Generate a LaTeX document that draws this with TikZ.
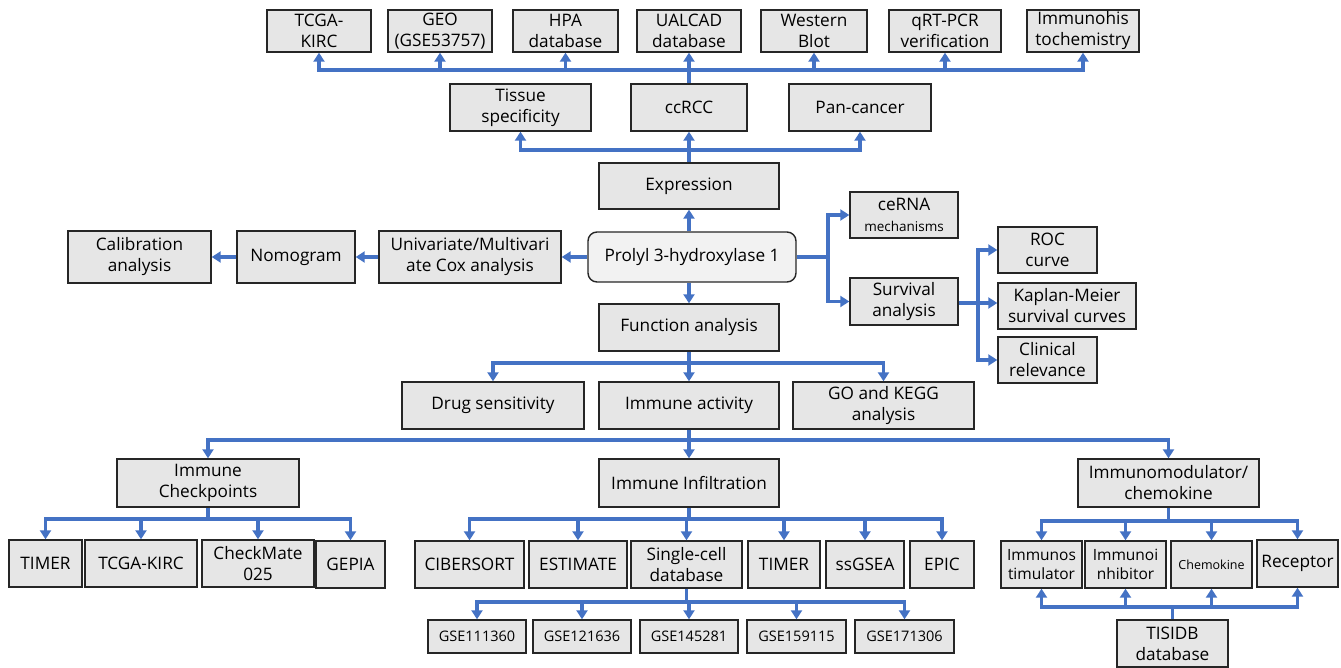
\documentclass[tikz,border=0pt]{standalone}
\usepackage{fontspec}
\setmainfont{Open Sans}
\usetikzlibrary{arrows.meta}
\definecolor{lnblue}{HTML}{4472C4}
\definecolor{boxgray}{HTML}{E6E6E6}
\definecolor{boxlight}{HTML}{F2F2F2}
\tikzset{
  box/.style={draw=black!85, line width=1.4pt, fill=boxgray, align=center, inner sep=0pt,
    font=\fontsize{17.2}{21}\selectfont},
  small/.style={font=\fontsize{14.5}{18}\selectfont},
  ln/.style={draw=lnblue, line width=3.2pt},
  arr/.style={ln, -{Triangle[width=11pt,length=9pt]}},
}
\newcommand\bx[7][]{\node[box,minimum width={#5-#3},minimum height={#6-#4},#1] (#2) at ({(#3+#5)/2},{(#4+#6)/2}) {#7};}
\begin{document}
\begin{tikzpicture}[x=1pt,y=-1pt]
\useasboundingbox (0,0) rectangle (1341,668);
% top row
\bx{tcga}{267}{10}{371}{52}{TCGA-\\KIRC}
\bx{geo}{388}{10}{492}{52}{GEO\\(GSE53757)}
\bx{hpa}{513}{10}{618}{52}{HPA\\database}
\bx{ualcad}{637}{10}{741}{52}{UALCAD\\database}
\bx{wb}{761}{10}{867}{52}{Western\\Blot}
\bx{qrt}{889}{10}{1001}{52}{qRT-PCR\\verification}
\bx{ihc}{1027}{10}{1139}{52}{Immunohis\\tochemistry}
% second row
\bx{tissue}{450}{84}{591}{131}{Tissue\\specificity}
\bx{ccrcc}{631}{84}{747}{131}{ccRCC}
\bx{pan}{789}{84}{931}{131}{Pan-cancer}
% center column
\bx{expr}{599}{163}{779}{209}{Expression}
\bx[rounded corners=9pt,fill=boxlight]{prolyl}{588}{232}{796}{282}{Prolyl 3-hydroxylase 1}
\bx{func}{599}{304}{779}{351}{Function analysis}
% left
\bx{cox}{379}{231}{561}{283}{Univariate/Multivari\\ate Cox analysis}
\bx{nomo}{237}{231}{355}{283}{Nomogram}
\bx{calib}{68}{231}{211}{283}{Calibration\\analysis}
% right
\bx{cerna}{850}{192}{958}{238}{ceRNA\\{\fontsize{13.5}{16}\selectfont mechanisms}}
\bx{surv}{850}{278}{958}{325}{Survival\\analysis}
\bx{roc}{998}{227}{1097}{273}{ROC\\curve}
\bx{km}{998}{283}{1136}{329}{Kaplan-Meier\\survival curves}
\bx{clin}{998}{337}{1097}{383}{Clinical\\relevance}
% function row
\bx{drug}{402}{382}{584}{429}{Drug sensitivity}
\bx{act}{599}{382}{779}{429}{Immune activity}
\bx{go}{793}{382}{974}{429}{GO and KEGG\\analysis}
% third level
\bx{chk}{117}{459}{299}{507}{Immune\\Checkpoints}
\bx{infil}{599}{459}{779}{507}{Immune Infiltration}
\bx{imod}{1078}{459}{1259}{507}{Immunomodulator/\\chemokine}
% checkpoints children
\bx{timerA}{9}{540}{82}{587}{TIMER}
\bx{tcgaB}{85}{540}{197}{587}{TCGA-KIRC}
\bx{cm}{202}{540}{314}{587}{CheckMate\\025}
\bx{gepia}{316}{541}{385}{588}{GEPIA}
% infiltration children
\bx{cib}{415}{541}{524}{588}{CIBERSORT}
\bx{est}{529}{541}{627}{588}{ESTIMATE}
\bx{sc}{631}{541}{742}{588}{Single-cell\\database}
\bx{timerB}{748}{541}{820}{588}{TIMER}
\bx{ssg}{826}{541}{904}{588}{ssGSEA}
\bx{epic}{910}{541}{974}{588}{EPIC}
% GSE
\bx[small]{g1}{428}{620}{526}{653}{GSE111360}
\bx[small]{g2}{533}{620}{631}{653}{GSE121636}
\bx[small]{g3}{640}{620}{738}{653}{GSE145281}
\bx[small]{g4}{747}{620}{846}{653}{GSE159115}
\bx[small]{g5}{855}{620}{954}{653}{GSE171306}
% immunomodulator children
\bx[font=\fontsize{15.5}{19}\selectfont]{istim}{1001}{541}{1082}{588}{Immunos\\timulator}
\bx[font=\fontsize{15.5}{19}\selectfont]{iinh}{1085}{541}{1166}{588}{Immunoi\\nhibitor}
\bx[font=\fontsize{12.5}{15}\selectfont]{chem}{1171}{541}{1252}{588}{Chemokine}
\bx{rec}{1257}{540}{1338}{587}{Receptor}
\bx{tis}{1117}{620}{1228}{667}{TISIDB\\database}

% ---- connectors ----
% Expression to second row
\draw[arr] (expr.north) -- (ccrcc.south);
\draw[arr] (expr.north |- 0,150) -| (tissue.south);
\draw[arr] (expr.north |- 0,150) -| (pan.south);
% ccRCC to top row
\draw[arr] (ccrcc.north) -- (ccrcc.north |- ualcad.south);
\foreach \t in {tcga,geo,hpa,wb,qrt,ihc}
  \draw[arr] (ccrcc.north |- 0,70) -| (\t.south);
% prolyl up and down
\draw[arr] (expr.south |- prolyl.north) -- (expr.south);
\draw[arr] (func.north |- prolyl.south) -- (func.north);
% left chain
\draw[arr] (prolyl.west) -- (cox.east);
\draw[arr] (cox.west) -- (nomo.east);
\draw[arr] (nomo.west) -- (calib.west -| calib.east);
% right
\coordinate (rj) at (828,257);
\draw[arr] (prolyl.east) -- (rj) |- (cerna.west);
\draw[arr] (prolyl.east) -- (rj) |- (surv.west);
\coordinate (sj) at (978,303);
\draw[arr] (surv.east |- sj) -- (sj) |- (roc.west);
\draw[arr] (surv.east |- sj) -- (km.west |- sj);
\draw[arr] (sj) |- (clin.west);
% function branch
\draw[arr] (func.south) -- (act.north);
\draw[arr] (func.south |- 0,363) -| (drug.north);
\draw[arr] (func.south |- 0,363) -| (go.north);
% immune activity branch
\draw[arr] (act.south) -- (infil.north);
\draw[arr] (act.south |- 0,440) -| (chk.north);
\draw[arr] (act.south |- 0,440) -| (imod.north);
% checkpoints
\draw[ln] (chk.south) -- (chk.south |- 0,519);
\foreach \t in {timerA,tcgaB,cm,gepia}
  \draw[arr] (chk.south |- 0,519) -| (\t.north);
% infiltration
\draw[ln] (infil.south) -- (infil.south |- 0,519);
\foreach \t in {cib,est,sc,timerB,ssg,epic}
  \draw[arr] (infil.south |- 0,519) -| (\t.north);
% single-cell
\draw[ln] (sc.south) -- (sc.south |- 0,602);
\foreach \t in {g1,g2,g3,g4,g5}
  \draw[arr] (sc.south |- 0,602) -| (\t.north);
% immunomodulator
\draw[ln] (imod.south) -- (imod.south |- 0,521);
\foreach \t in {istim,iinh,chem,rec}
  \draw[arr] (imod.south |- 0,521) -| (\t.north);
% TISIDB
\draw[ln] (tis.north) -- (tis.north |- 0,607);
\foreach \t in {istim,iinh,chem,rec}
  \draw[arr] (tis.north |- 0,607) -| (\t.south);
\end{tikzpicture}
\end{document}
